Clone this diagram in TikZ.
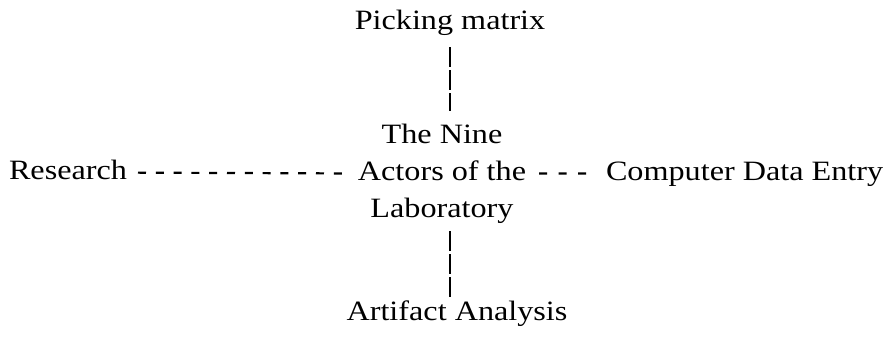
\documentclass[tikz,border=0pt]{standalone}
\usepackage{fontspec}
\setmainfont{Liberation Serif}[FakeStretch=1.15]
\usetikzlibrary{positioning}

\begin{document}
\begin{tikzpicture}[
        x=0.5pt, y=-0.5pt,
        % Styles
        word/.style={font=\fontsize{14pt}{18.5pt}\selectfont, inner sep=0pt, outer sep=0pt, text height=9.5pt, text depth=3.1pt},
        hub/.style={font=\fontsize{14pt}{18.5pt}\selectfont, inner sep=0pt, outer sep=0pt, align=center},
        hline/.style={draw, line width=1.1pt, dash pattern=on 4pt off 4.9pt},
        vline/.style={draw, line width=1pt, dash pattern=on 10pt off 1.5pt}
    ]
        \useasboundingbox (0,0) rectangle (891,337);

        % Nodes
        \node [word, anchor=base] (picking) at (450,30) {Picking matrix};
        \node [hub] (nine) at (442,173.5) {The Nine\\Actors of the\\Laboratory};
        \node [word, anchor=base east] (research) at (127,179) {Research};
        \node [word, anchor=base west] (entry) at (606,180) {Computer Data Entry};
        \node [word, anchor=base] (artifact) at (457,320) {Artifact Analysis};

        % Paths
        \path [vline, shorten <=5.5pt, shorten >=6.5pt] (picking.south) -- (picking.south |- nine.north);
        \path [hline, shorten <=5.5pt, shorten >=8pt] (research.east) -- (nine.west);
        \path [hline, dash pattern=on 4pt off 5.75pt, shorten <=6.5pt, shorten >=9.5pt] (nine.east) -- (entry.west);
        \path [vline, shorten <=4pt, shorten >=1.5pt] (nine.south -| picking.south) -- (artifact.north -| picking.south);
    \end{tikzpicture}
\end{document}
